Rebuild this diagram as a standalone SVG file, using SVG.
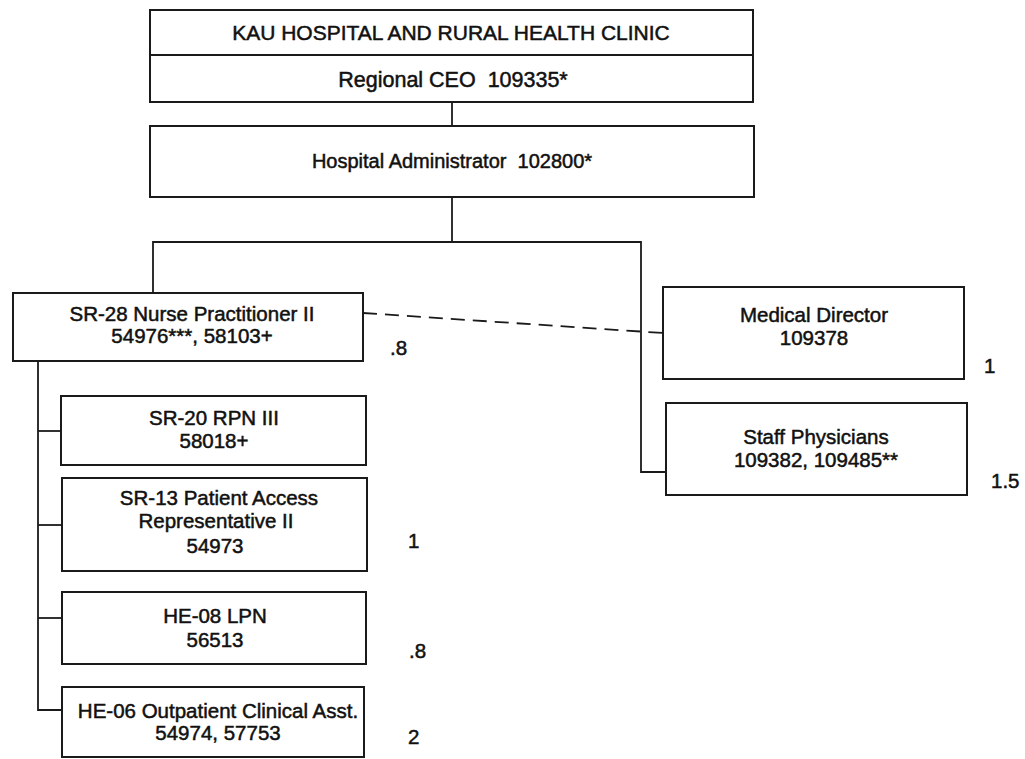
<svg xmlns="http://www.w3.org/2000/svg" width="1025" height="759" viewBox="0 0 1025 759">
<style>
.box{fill:#fff;stroke:#1a1a1a;stroke-width:2}
.ln{fill:none;stroke:#1a1a1a;stroke-width:1.8}
.dash{fill:none;stroke:#1a1a1a;stroke-width:1.8;stroke-dasharray:14 8}
text{font-family:"Liberation Sans",Arial,sans-serif;fill:#111;stroke:#111;stroke-width:0.5;text-anchor:middle}
.t{font-size:20.5px}
.k{font-size:21px}
.c{font-size:21.5px}
.a{font-size:20px}
.n{font-size:20.5px;text-anchor:start}
</style>
<rect width="1025" height="759" fill="#fff"/>
<g id="connectors">
<line class="ln" x1="452" y1="102" x2="452" y2="126"/>
<line class="ln" x1="452" y1="197" x2="452" y2="242"/>
<polyline class="ln" points="153,293 153,242 641,242 641,472 666,472"/>
<line class="dash" x1="363" y1="313" x2="663" y2="333"/>
<polyline class="ln" points="38,361 38,710 62,710"/>
<line class="ln" x1="38" y1="431" x2="61" y2="431"/>
<line class="ln" x1="38" y1="525" x2="62" y2="525"/>
<line class="ln" x1="38" y1="618" x2="62" y2="618"/>
</g>
<g id="kau">
<rect class="box" x="150" y="10" width="603" height="92"/>
<line class="ln" x1="150" y1="55" x2="753" y2="55"/>
<text class="k" x="451" y="40">KAU HOSPITAL AND RURAL HEALTH CLINIC</text>
<text class="c" x="453" y="87" xml:space="preserve">Regional CEO  109335*</text>
</g>
<g id="admin">
<rect class="box" x="150" y="126" width="604" height="71"/>
<text class="a" x="452" y="168" xml:space="preserve">Hospital Administrator  102800*</text>
</g>
<g id="np">
<rect class="box" x="13" y="293" width="350" height="68"/>
<text class="t" x="192" y="321">SR-28 Nurse Practitioner II</text>
<text class="t" x="192" y="343">54976***, 58103+</text>
</g>
<g id="rpn">
<rect class="box" x="61" y="396" width="305" height="69"/>
<text class="t" x="214" y="425">SR-20 RPN III</text>
<text class="t" x="214" y="448">58018+</text>
</g>
<g id="par">
<rect class="box" x="62" y="478" width="305" height="93"/>
<text class="t" x="219" y="505">SR-13 Patient Access</text>
<text class="t" x="216" y="528">Representative II</text>
<text class="t" x="215" y="553">54973</text>
</g>
<g id="lpn">
<rect class="box" x="62" y="592" width="304" height="72"/>
<text class="t" x="215" y="623">HE-08 LPN</text>
<text class="t" x="215" y="647">56513</text>
</g>
<g id="oca">
<rect class="box" x="62" y="687" width="302" height="70"/>
<text class="t" x="218" y="718">HE-06 Outpatient Clinical Asst.</text>
<text class="t" x="218" y="740">54974, 57753</text>
</g>
<g id="md">
<rect class="box" x="663" y="287" width="301" height="92"/>
<text class="t" x="814" y="322">Medical Director</text>
<text class="t" x="814" y="345">109378</text>
</g>
<g id="sp">
<rect class="box" x="666" y="403" width="301" height="92"/>
<text class="t" x="816" y="444">Staff Physicians</text>
<text class="t" x="816" y="467">109382, 109485**</text>
</g>
<g id="fte">
<text class="n" x="390" y="355">.8</text>
<text class="n" x="408" y="548">1</text>
<text class="n" x="409" y="658">.8</text>
<text class="n" x="408" y="744">2</text>
<text class="n" x="984" y="373">1</text>
<text class="n" x="991" y="488">1.5</text>
</g>
</svg>
